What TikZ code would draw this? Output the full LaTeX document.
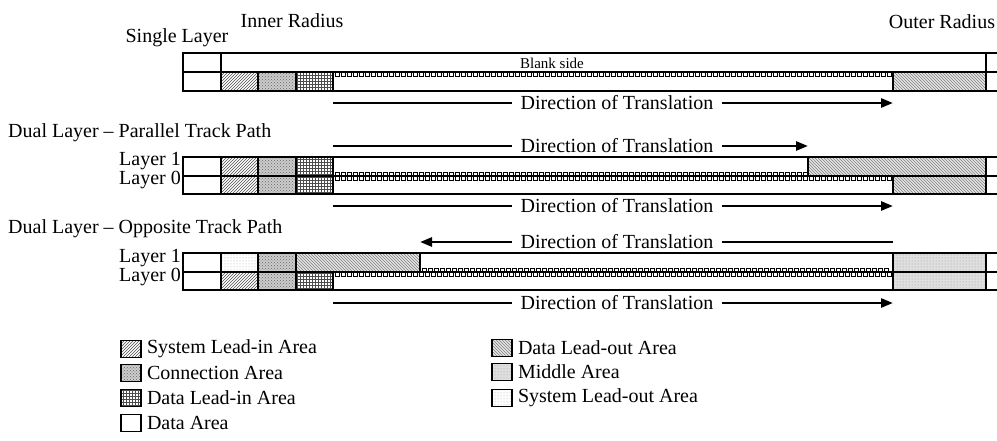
\documentclass[tikz,border=0pt]{standalone}
\usepackage{fontspec}
\setmainfont{Liberation Serif}
\usetikzlibrary{patterns,arrows.meta,positioning}

\tikzset{
  cellbox/.style={line width=1.3pt},
  slin/.style={pattern=north east lines, pattern color=black!70},
  conn/.style={preaction={fill=gray!40}, pattern=crosshatch dots, pattern color=black!60},
  dlin/.style={pattern=grid, pattern color=black!70},
  dlout/.style={preaction={fill=gray!20}, pattern=north west lines, pattern color=black!50},
  midarea/.style={preaction={fill=gray!25}, pattern=dots, pattern color=gray!80},
  slout/.style={pattern=dots, pattern color=gray!70},
  track/.style={line width=0.6pt},
  trans/.style={line width=2.6pt},
  dirlbl/.style={inner xsep=9pt, inner ysep=0pt},
  keybox/.style={draw, line width=1.6pt, minimum width=20pt, minimum height=17pt, inner sep=0pt},
}

\begin{document}
\begin{tikzpicture}[x=1pt, y=-1pt, >={Triangle[length=12pt,width=9pt]}, font=\fontsize{20}{22}\selectfont]
        \useasboundingbox (0,0) rectangle (997,441);

        \node (single) at (177,38) {Single Layer};
        \node (inner) at (292,21) {Inner Radius};
        \node (outer) at (942,22) {Outer Radius};

        % single layer
        \draw[cellbox] (183,53) rectangle (221,72);
        \draw[cellbox] (221,53) rectangle (986,72);
        \draw[cellbox] (986,53) rectangle (1005,72);
        \node[font=\fontsize{15}{17}\selectfont] (blank) at (552,63) {Blank side};
        \draw[cellbox] (183,72) rectangle (221,91);
        \draw[cellbox, slin] (221,72) rectangle (258,91);
        \draw[cellbox, conn] (258,72) rectangle (296,91);
        \draw[cellbox, dlin] (296,72) rectangle (333,91);
        \draw[cellbox] (333,72) rectangle (893,91);
        \draw[cellbox, dlout] (893,72) rectangle (986,91);
        \draw[cellbox] (986,72) rectangle (1005,91);
        \foreach \x in {335,341,...,887}
            \draw[track] (\x,72) -- ++(0,4) -- ++(4,0) -- ++(0,-4);
        \coordinate (s0) at (333,103);
        \node[dirlbl] (sdir) at (617,103) {Direction of Translation};
        \coordinate (s1) at (893,103);
        \draw[trans] (s0) -- (sdir);
        \draw[trans, ->] (sdir) -- (s1);

        % dual layer, parallel
        \node[anchor=west, inner sep=0pt] (ptitle) at (8,133) {Dual Layer \textendash{} Parallel Track Path};
        \coordinate (pa0) at (333,146);
        \node[dirlbl] (padir) at (617,146) {Direction of Translation};
        \coordinate (pa1) at (808,146);
        \draw[trans] (pa0) -- (padir);
        \draw[trans, ->] (padir) -- (pa1);
        \node[anchor=base east, inner sep=1pt] (pl1) at (182,166) {Layer 1};
        \node[anchor=base east, inner sep=1pt] (pl0) at (182,185) {Layer 0};
        \draw[cellbox] (183,157) rectangle (221,176);
        \draw[cellbox, slin] (221,157) rectangle (258,176);
        \draw[cellbox, conn] (258,157) rectangle (296,176);
        \draw[cellbox, dlin] (296,157) rectangle (333,176);
        \draw[cellbox] (333,157) rectangle (808,176);
        \draw[cellbox, dlout] (808,157) rectangle (986,176);
        \draw[cellbox] (986,157) rectangle (1005,176);
        \draw[cellbox] (183,176) rectangle (221,194);
        \draw[cellbox, slin] (221,176) rectangle (258,194);
        \draw[cellbox, conn] (258,176) rectangle (296,194);
        \draw[cellbox, dlin] (296,176) rectangle (333,194);
        \draw[cellbox] (333,176) rectangle (893,194);
        \draw[cellbox, dlout] (893,176) rectangle (986,194);
        \draw[cellbox] (986,176) rectangle (1005,194);
        \foreach \x in {335,341,...,803}
            \draw[track] (\x,176) -- ++(0,-4) -- ++(4,0) -- ++(0,4);
        \foreach \x in {335,341,...,887}
            \draw[track] (\x,176) -- ++(0,4) -- ++(4,0) -- ++(0,-4);
        \coordinate (pb0) at (333,206);
        \node[dirlbl] (pbdir) at (617,206) {Direction of Translation};
        \coordinate (pb1) at (893,206);
        \draw[trans] (pb0) -- (pbdir);
        \draw[trans, ->] (pbdir) -- (pb1);

        % dual layer, opposite
        \node[anchor=west, inner sep=0pt] (otitle) at (8,229) {Dual Layer \textendash{} Opposite Track Path};
        \coordinate (oa0) at (893,242);
        \node[dirlbl] (oadir) at (617,242) {Direction of Translation};
        \coordinate (oa1) at (420,242);
        \draw[trans] (oa0) -- (oadir);
        \draw[trans, ->] (oadir) -- (oa1);
        \node[anchor=base east, inner sep=1pt] (ol1) at (182,262) {Layer 1};
        \node[anchor=base east, inner sep=1pt] (ol0) at (182,281) {Layer 0};
        \draw[cellbox] (183,253) rectangle (221,272);
        \draw[cellbox, slout] (221,253) rectangle (258,272);
        \draw[cellbox, conn] (258,253) rectangle (296,272);
        \draw[cellbox, dlout] (296,253) rectangle (420,272);
        \draw[cellbox] (420,253) rectangle (893,272);
        \draw[cellbox, midarea] (893,253) rectangle (986,272);
        \draw[cellbox] (986,253) rectangle (1005,272);
        \draw[cellbox] (183,272) rectangle (221,290);
        \draw[cellbox, slin] (221,272) rectangle (258,290);
        \draw[cellbox, conn] (258,272) rectangle (296,290);
        \draw[cellbox, dlin] (296,272) rectangle (333,290);
        \draw[cellbox] (333,272) rectangle (893,290);
        \draw[cellbox, midarea] (893,272) rectangle (986,290);
        \draw[cellbox] (986,272) rectangle (1005,290);
        \foreach \x in {422,428,...,884}
            \draw[track] (\x,272) -- ++(0,-4) -- ++(4,0) -- ++(0,4);
        \foreach \x in {335,341,...,887}
            \draw[track] (\x,272) -- ++(0,4) -- ++(4,0) -- ++(0,-4);
        \coordinate (ob0) at (333,303);
        \node[dirlbl] (obdir) at (617,303) {Direction of Translation};
        \coordinate (ob1) at (893,303);
        \draw[trans] (ob0) -- (obdir);
        \draw[trans, ->] (obdir) -- (ob1);

        % key
        \node[keybox, slin] (kslin) at (131,349) {};
        \node[right=5pt of kslin, inner sep=0pt] (tslin) {System Lead-in Area};
        \node[keybox, conn] (kconn) at (131,373) {};
        \node[right=5pt of kconn, inner sep=0pt] (tconn) {Connection Area};
        \node[keybox, dlin] (kdlin) at (131,398) {};
        \node[right=5pt of kdlin, inner sep=0pt] (tdlin) {Data Lead-in Area};
        \node[keybox] (kdata) at (131,423) {};
        \node[right=5pt of kdata, inner sep=0pt] (tdata) {Data Area};
        \node[keybox, dlout] (kdlout) at (502,348) {};
        \node[right=5pt of kdlout, inner sep=0pt] (tdlout) {Data Lead-out Area};
        \node[keybox, midarea] (kmid) at (502,372) {};
        \node[right=5pt of kmid, inner sep=0pt] (tmid) {Middle Area};
        \node[keybox, slout] (kslout) at (502,398) {};
        \node[right=5pt of kslout, inner sep=0pt] (tslout) {System Lead-out Area};
    \end{tikzpicture}
\end{document}
